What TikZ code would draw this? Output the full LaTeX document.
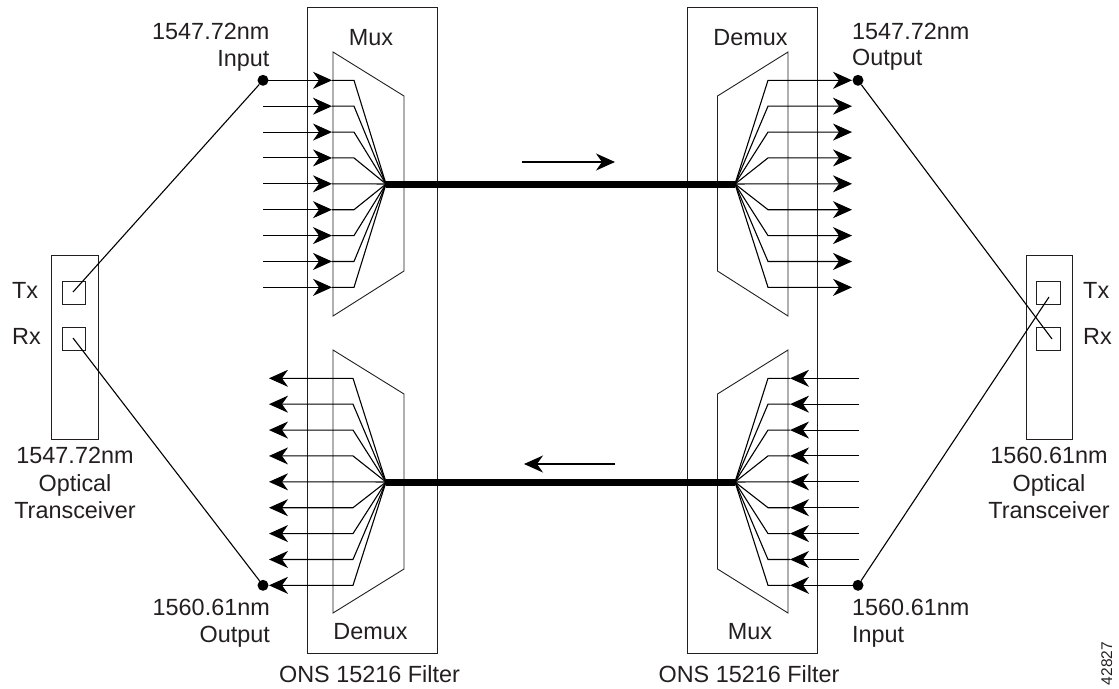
\documentclass[tikz,border=0pt]{standalone}
\usepackage{fontspec}
\setmainfont{Liberation Sans}
\usetikzlibrary{arrows.meta}
\definecolor{labelgray}{HTML}{231F20}
\tikzset{
	thin line/.style={line width=1.1pt},
	box/.style={draw=labelgray, line width=0.9pt},
	channel/.style={line width=1.1pt, -{Stealth[length=19pt,width=17pt,inset=6pt]}},
	trunk/.style={line width=7pt},
	dot/.style={circle, fill=black, inner sep=0pt, minimum size=11pt},
	label/.style={text=labelgray, inner sep=0pt, font=\fontsize{23.4}{27.3}\selectfont}
}
\begin{document}
\begin{tikzpicture}[x=1pt,y=-1pt]
	\useasboundingbox (0,0) rectangle (1119,688);
	% filters and transceivers
	\draw[box] (307.5,7.5) rectangle (437.5,653);
	\draw[box] (687,7.5) rectangle (817,653);
	\draw[box] (51,255) rectangle (98,439);
	\draw[box] (1026,255) rectangle (1072,439);
	\draw[box] (62,281) rectangle (85,304);
	\draw[box] (62,327) rectangle (85,350);
	\draw[box] (1036,281) rectangle (1060,304);
	\draw[box] (1036,327) rectangle (1060,350);
	% trapezoids
	\draw[box] (333,52) -- (404,96) -- (404,271) -- (333,316) -- cycle;
	\draw[box] (333,350) -- (404,394) -- (404,569) -- (333,613) -- cycle;
	\draw[box] (788,52) -- (717.5,96) -- (717.5,271) -- (788,316) -- cycle;
	\draw[box] (788,350) -- (717.5,394) -- (717.5,569) -- (788,613) -- cycle;
	% hubs and ports
	\coordinate (hubA) at (386,184);
	\coordinate (hubB) at (735,184);
	\coordinate (hubC) at (386,482);
	\coordinate (hubD) at (735,482);
	\node[dot] (inA) at (263,80.3) {};
	\node[dot] (outB) at (858,80.3) {};
	\node[dot] (outC) at (263,585.3) {};
	\node[dot] (inD) at (858,585.3) {};
	\coordinate (txL) at (73,292);
	\coordinate (rxL) at (73,338);
	\coordinate (txR) at (1049,297);
	\coordinate (rxR) at (1052,339);
	% channels
	\foreach \i in {1,...,9} {
		\pgfmathsetmacro{\rowT}{80.3+25.88*(\i-1)}
		\pgfmathsetmacro{\rowB}{378.3+25.88*(\i-1)}
		\coordinate (a\i) at (263,\rowT);
		\coordinate (ak\i) at (354,\rowT);
		\coordinate (at\i) at (332,\rowT);
		\coordinate (b\i) at (852,\rowT);
		\coordinate (bk\i) at (768,\rowT);
		\coordinate (c\i) at (269,\rowB);
		\coordinate (ck\i) at (353,\rowB);
		\coordinate (d\i) at (859,\rowB);
		\coordinate (dk\i) at (768,\rowB);
		\coordinate (dt\i) at (790,\rowB);
		\draw[channel] (a\i) -- (at\i);
		\draw[thin line] (at\i) -- (ak\i) -- (hubA);
		\draw[channel] (hubB) -- (bk\i) -- (b\i);
		\draw[channel] (hubC) -- (ck\i) -- (c\i);
		\draw[channel] (d\i) -- (dt\i);
		\draw[thin line] (dt\i) -- (dk\i) -- (hubD);
	}
	\draw[trunk] (hubA) -- (hubB);
	\draw[trunk] (hubC) -- (hubD);
	% direction arrows
	\coordinate (topS) at (522,162);
	\coordinate (topE) at (615,162);
	\coordinate (botS) at (615,464);
	\coordinate (botE) at (524,464);
	\draw[channel] (topS) -- (topE);
	\draw[channel] (botS) -- (botE);
	% fibres
	\draw[thin line] (inA) -- (txL);
	\draw[thin line] (rxL) -- (outC);
	\draw[thin line] (outB) -- (rxR);
	\draw[thin line] (inD) -- (txR);
	% labels
	\node[label, anchor=base east] (inAa) at (269.5,39) {1547.72nm};
	\node[label, anchor=base east] (inAb) at (269.5,66.5) {Input};
	\node[label, anchor=base west] (outBa) at (852,39) {1547.72nm};
	\node[label, anchor=base west] (outBb) at (852,65) {Output};
	\node[label, anchor=base east] (outCa) at (270,615) {1560.61nm};
	\node[label, anchor=base east] (outCb) at (270,642) {Output};
	\node[label, anchor=base west] (inDa) at (852,615) {1560.61nm};
	\node[label, anchor=base west] (inDb) at (852,642) {Input};
	\node[label, anchor=base] (muxA) at (371,45) {Mux};
	\node[label, anchor=base] (demuxB) at (750.5,45) {Demux};
	\node[label, anchor=base] (demuxC) at (370.5,639) {Demux};
	\node[label, anchor=base] (muxD) at (750,639) {Mux};
	\node[label, anchor=base] (filterL) at (369.5,682) {ONS 15216 Filter};
	\node[label, anchor=base] (filterR) at (749,682) {ONS 15216 Filter};
	\node[label, anchor=base west] (txLab) at (12,298) {Tx};
	\node[label, anchor=base west] (rxLab) at (12,344) {Rx};
	\node[label, anchor=base west] (txRab) at (1083,298) {Tx};
	\node[label, anchor=base west] (rxRab) at (1083,344) {Rx};
	\node[label, anchor=base] (specLa) at (75,463) {1547.72nm};
	\node[label, anchor=base] (specLb) at (75,491) {Optical};
	\node[label, anchor=base] (specLc) at (75,518) {Transceiver};
	\node[label, anchor=base] (specRa) at (1049,463) {1560.61nm};
	\node[label, anchor=base] (specRb) at (1049,491) {Optical};
	\node[label, anchor=base] (specRc) at (1049,518) {Transceiver};
	\node[label, font=\fontsize{15.5}{15.5}\selectfont, rotate=90, anchor=base] (figno) at (1112,663.5) {42827};
\end{tikzpicture}
\end{document}
